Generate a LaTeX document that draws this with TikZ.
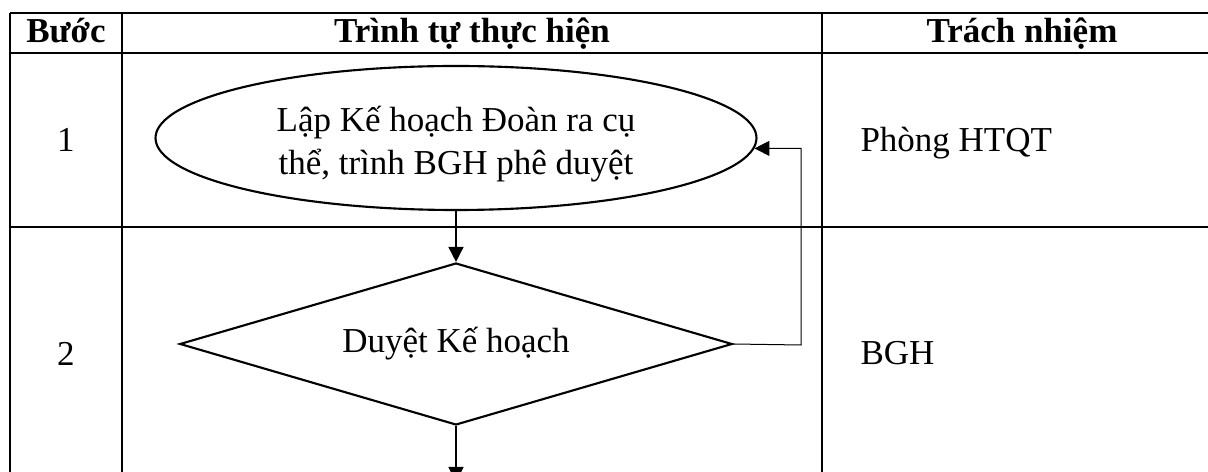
\documentclass[tikz,border=0pt]{standalone}
\usepackage{fontspec}
\setmainfont{Liberation Serif}
\usetikzlibrary{shapes.geometric,arrows.meta}
\begin{document}
\begin{tikzpicture}[x=0.4pt,y=-0.4pt,
  every node/.style={font=\fontsize{14}{17}\selectfont, inner sep=0pt},
  head/.style={font=\fontsize{14}{17}\selectfont\bfseries, anchor=base},
  cell/.style={anchor=base},
  rule/.style={line width=0.9pt},
  startbox/.style={ellipse, draw, line width=0.85pt, minimum width=240.4pt, minimum height=57.6pt, align=center},
  checkbox/.style={diamond, draw, line width=0.85pt, shape aspect=3.4, minimum width=221pt, minimum height=64.8pt},
  flow/.style={line width=0.65pt, -{Triangle[length=6pt,width=6pt]}},
  back/.style={line width=0.4pt, -{Triangle[length=6pt,width=6pt]}}]
\useasboundingbox (0,0) rectangle (1208,472);
\clip (0,0) rectangle (1208,472);

% table grid
\draw[rule] (10,13) -- (1230,13);
\draw[rule] (10,53) -- (1230,53);
\draw[rule] (10,227) -- (1230,227);
\draw[rule] (10,13) -- (10,490);
\draw[rule] (122,13) -- (122,490);
\draw[rule] (822,13) -- (822,490);

% header row
\node[head] (hstep) at (66,43) {Bước};
\node[head] (hflow) at (472,43) {Trình tự thực hiện};
\node[head] (hresp) at (1022,43) {Trách nhiệm};

% step numbers and responsible units
\node[cell] (n1) at (66,152) {1};
\node[cell] (n2) at (66,366) {2};
\node[cell, anchor=base west] (r1) at (860,152) {Phòng HTQT};
\node[cell, anchor=base west] (r2) at (860,365) {BGH};

% flow shapes
\node[startbox] (plan) at (456,138) {\rule{0pt}{15pt}Lập Kế hoạch Đoàn ra cụ\\thể, trình BGH phê duyệt};
\node[checkbox] (review) at (456,344) {Duyệt Kế hoạch};

% connectors
\coordinate (loop) at (801,345);
\coordinate (next) at (456,482);
\draw[flow] (plan.south) -- (review.north);
\draw[back] (review.east) -- (loop) |- (plan.-2.7);
\draw[flow] (review.south) -- (next);
\end{tikzpicture}
\end{document}
